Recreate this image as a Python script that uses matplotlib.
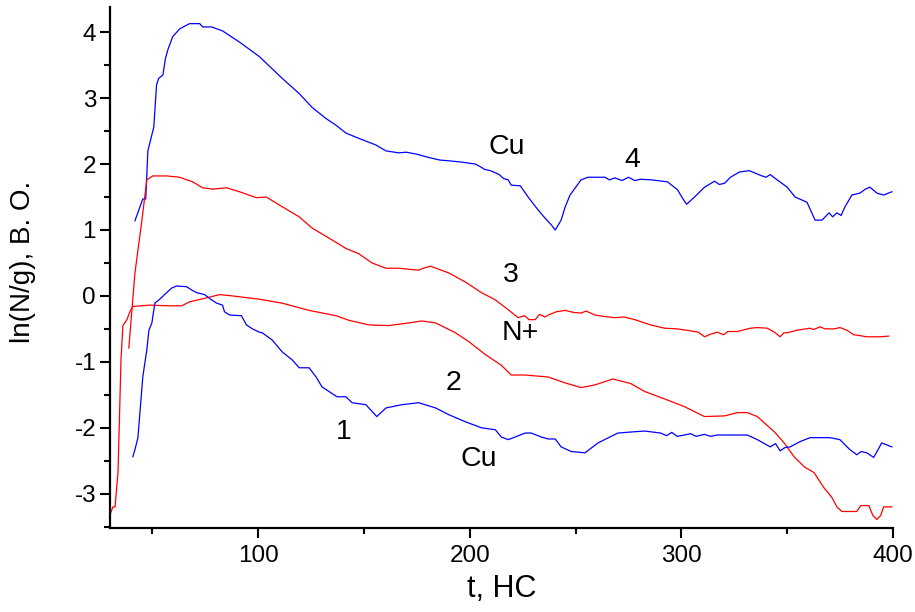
import matplotlib
matplotlib.use("Agg")
import matplotlib.pyplot as plt
from matplotlib.ticker import MultipleLocator

plt.rcParams["font.family"] = ["Liberation Sans", "DejaVu Sans"]
plt.rcParams["axes.unicode_minus"] = False

# Curve 4: Cu (upper blue)
t4 = [41.8, 45.5, 46.9, 47.9, 50.7, 52.0, 53.0, 55.0, 56.2, 57.3, 59.6, 62.9, 67.6,
      72.4, 73.8, 78.0, 83.2, 91.2, 100.6, 111.4, 119.4, 125.5, 132.1, 136.8, 141.5,
      147.6, 155.6, 160.4, 166.5, 170.0, 175.0, 180.6, 186.0, 190.0, 196.1, 202.7,
      205.0, 207.0, 209.8, 214.0, 216.0, 218.2, 219.6, 223.9, 227.6, 232.4, 235.6,
      238.5, 240.4, 243.2, 245.1, 247.4, 252.6, 255.9, 263.9, 266.0, 268.6, 272.0,
      275.0, 278.0, 280.8, 286.0, 293.5, 298.2, 300.6, 302.5, 306.2, 311.0, 315.7,
      318.0, 320.5, 323.2, 327.5, 332.1, 337.3, 340.0, 342.0, 345.3, 350.0, 353.8,
      359.4, 363.2, 366.5, 369.8, 371.5, 373.5, 375.5, 377.3, 380.6, 384.4, 387.0,
      389.1, 392.4, 395.6, 399.5]
y4 = [1.14, 1.47, 1.47, 2.20, 2.56, 3.20, 3.30, 3.35, 3.60, 3.73, 3.93, 4.05, 4.13,
      4.13, 4.08, 4.08, 4.02, 3.85, 3.63, 3.30, 3.07, 2.86, 2.69, 2.59, 2.47,
      2.39, 2.29, 2.20, 2.17, 2.18, 2.15, 2.10, 2.06, 2.05, 2.03, 2.00, 1.96,
      1.92, 1.90, 1.84, 1.78, 1.76, 1.68, 1.67, 1.50, 1.30, 1.18,
      1.08, 1.00, 1.15, 1.35, 1.53, 1.76, 1.80, 1.80, 1.76, 1.79, 1.75,
      1.80, 1.75, 1.77, 1.76, 1.73, 1.61, 1.48, 1.39, 1.50, 1.65, 1.74,
      1.69, 1.71, 1.80, 1.88, 1.90, 1.83, 1.80, 1.84, 1.76, 1.65, 1.50,
      1.42, 1.15, 1.15, 1.26, 1.20, 1.26, 1.22, 1.35, 1.53, 1.56, 1.62,
      1.65, 1.56, 1.53, 1.58]

# Curve 3: N+ (upper red)
t3 = [38.9, 41.8, 45.1, 47.4, 50.2, 56.8, 62.9, 69.1, 73.8, 78.5, 85.1, 91.2, 99.2,
      103.9, 110.0, 119.4, 125.5, 134.9, 141.5, 147.6, 153.8, 160.4, 166.5, 175.9,
      178.0, 181.5, 190.0, 198.0, 205.5, 212.1, 218.2, 222.9, 226.0, 228.0, 230.9,
      233.0, 235.6, 237.1, 241.0, 245.1, 249.0, 252.6, 255.0, 259.2, 263.0, 268.6,
      273.0, 278.0, 285.5, 292.1, 298.0, 304.4, 308.0, 311.0, 313.8, 317.0, 320.0,
      322.0, 326.5, 332.6, 336.0, 340.6, 344.0, 346.7, 348.5, 350.0, 354.7, 360.8,
      362.5, 365.5, 368.0, 372.1, 375.0, 378.2, 381.5, 384.0, 387.6, 393.8, 398.0]
y3 = [-0.79, 0.35, 1.15, 1.76, 1.82, 1.82, 1.80, 1.73, 1.64, 1.62, 1.64, 1.58, 1.49,
      1.50, 1.38, 1.20, 1.03, 0.85, 0.72, 0.64, 0.50, 0.42, 0.42, 0.39,
      0.42, 0.45, 0.35, 0.21, 0.05, -0.06, -0.21, -0.33, -0.30, -0.36, -0.36,
      -0.28, -0.32, -0.29, -0.24, -0.22, -0.25, -0.26, -0.23, -0.29, -0.31, -0.33,
      -0.32, -0.36, -0.44, -0.49, -0.50, -0.53, -0.55, -0.62, -0.58, -0.55, -0.59,
      -0.54, -0.54, -0.49, -0.48, -0.49, -0.55, -0.62, -0.56, -0.56, -0.52, -0.49,
      -0.51, -0.47, -0.50, -0.50, -0.48, -0.52, -0.59, -0.60, -0.62, -0.62, -0.61]

# Curve 2: N+ (lower red)
t2 = [30.0, 31.4, 32.4, 33.8, 35.2, 36.1, 38.0, 39.4, 40.8, 48.8, 58.2, 63.9, 67.6,
      75.6, 81.8, 87.9, 100.6, 111.4, 124.1, 136.8, 142.9, 152.4, 161.8, 171.2,
      177.3, 183.9, 193.3, 199.4, 207.4, 214.9, 219.6, 226.2, 237.1, 245.1, 252.6,
      259.2, 267.6, 276.1, 282.7, 293.5, 301.5, 310.9, 320.4, 326.5, 331.2, 335.9,
      343.9, 348.6, 353.3, 358.0, 362.7, 367.4, 371.2, 373.5, 375.9, 382.9, 384.8,
      388.6, 390.5, 392.4, 394.2, 395.6, 399.5]
y2 = [-3.32, -3.20, -3.20, -2.67, -0.97, -0.45, -0.36, -0.24, -0.16, -0.14, -0.15,
      -0.15, -0.09, -0.03, 0.02, 0.00, -0.05, -0.11, -0.22, -0.30, -0.37, -0.44,
      -0.45, -0.41, -0.38, -0.41, -0.56, -0.69, -0.89, -1.05, -1.20, -1.20, -1.23,
      -1.32, -1.39, -1.35, -1.26, -1.33, -1.45, -1.58, -1.68, -1.83, -1.82, -1.77,
      -1.77, -1.83, -2.06, -2.23, -2.44, -2.59, -2.68, -2.91, -3.06, -3.20, -3.27,
      -3.27, -3.18, -3.18, -3.33, -3.39, -3.33, -3.20, -3.20]

# Curve 1: Cu (lower blue)
t1 = [40.8, 41.8, 43.2, 45.5, 47.4, 48.4, 49.8, 51.2, 53.5, 56.8, 59.2, 61.5, 66.2,
      68.6, 70.9, 74.7, 78.0, 80.4, 83.2, 84.1, 86.5, 92.1, 94.5, 97.3, 100.6, 102.0,
      106.7, 111.4, 116.1, 119.4, 124.1, 127.4, 130.2, 133.5, 137.3, 141.5, 144.4,
      150.9, 156.1, 160.4, 167.9, 175.9, 183.9, 190.0, 198.0, 205.5, 212.1, 214.9,
      218.2, 221.5, 226.2, 229.1, 233.8, 237.1, 240.4, 243.2, 247.9, 254.5, 260.6,
      270.0, 278.0, 282.7, 290.2, 293.0, 295.5, 298.0, 301.5, 304.4, 307.0, 310.9,
      313.8, 317.0, 320.0, 324.0, 331.2, 335.9, 342.0, 344.5, 346.7, 349.0, 351.4,
      356.1, 360.8, 370.2, 374.9, 379.6, 382.9, 385.0, 387.6, 390.9, 394.7, 399.5]
y1 = [-2.44, -2.33, -2.15, -1.23, -0.82, -0.52, -0.41, -0.11, -0.05, 0.05, 0.12, 0.15,
      0.14, 0.09, 0.05, 0.02, -0.06, -0.11, -0.14, -0.24, -0.29, -0.30, -0.44, -0.50,
      -0.55, -0.56, -0.67, -0.85, -0.97, -1.09, -1.09, -1.23, -1.38, -1.45, -1.53,
      -1.53, -1.62, -1.65, -1.83, -1.70, -1.65, -1.62, -1.70, -1.80, -1.91, -2.00,
      -2.03, -2.14, -2.18, -2.14, -2.08, -2.08, -2.14, -2.17, -2.17, -2.29, -2.36,
      -2.38, -2.23, -2.08, -2.06, -2.05, -2.08, -2.12, -2.07, -2.13, -2.11, -2.09,
      -2.13, -2.10, -2.13, -2.11, -2.11, -2.11, -2.11, -2.18, -2.29, -2.24, -2.35,
      -2.30, -2.29, -2.21, -2.15, -2.15, -2.18, -2.33, -2.41, -2.36, -2.38, -2.45,
      -2.23, -2.29]

# Curve annotations: (text, t, value)
labels = [("Cu", 217.3, 2.26), ("4", 276.6, 2.06), ("3", 219.2, 0.32),
          ("N+", 223.9, -0.56), ("2", 192.4, -1.32), ("1", 140.6, -2.06),
          ("Cu", 204.1, -2.48)]

fig = plt.figure(figsize=(9.15, 6.12), dpi=100)
ax = fig.add_axes([0.1202, 0.1373, 0.8557, 0.851])

ax.plot(t4, y4, color="#0000ff", lw=0.9)
ax.plot(t3, y3, color="#ff0000", lw=0.9)
ax.plot(t2, y2, color="#ff0000", lw=0.9)
ax.plot(t1, y1, color="#0000ff", lw=0.9)

for txt, tx, ty in labels:
    ax.text(tx, ty, txt, fontsize=20.5, ha="center", va="center", color="black")

ax.set_xlim(30, 400)
ax.set_ylim(-3.52, 4.38)
ax.xaxis.set_major_locator(MultipleLocator(100))
ax.xaxis.set_minor_locator(MultipleLocator(50))
ax.yaxis.set_major_locator(MultipleLocator(1))
ax.yaxis.set_minor_locator(MultipleLocator(0.5))

for side in ("top", "right"):
    ax.spines[side].set_visible(False)
for side in ("left", "bottom"):
    ax.spines[side].set_linewidth(1.6)

ax.tick_params(which="major", direction="out", length=7, width=1.5, labelsize=17.5)
ax.tick_params(axis="x", which="major", pad=5)
ax.tick_params(axis="y", which="major", pad=3)
ax.tick_params(which="minor", direction="out", length=4, width=1.5)

ax.set_xlabel("t, HC", fontsize=22, labelpad=5)
ax.set_ylabel("ln(N/g), B. O.", fontsize=20, labelpad=14)
ax.yaxis.set_label_coords(-0.095, 0.51)

fig.savefig("out.png", dpi=100)
